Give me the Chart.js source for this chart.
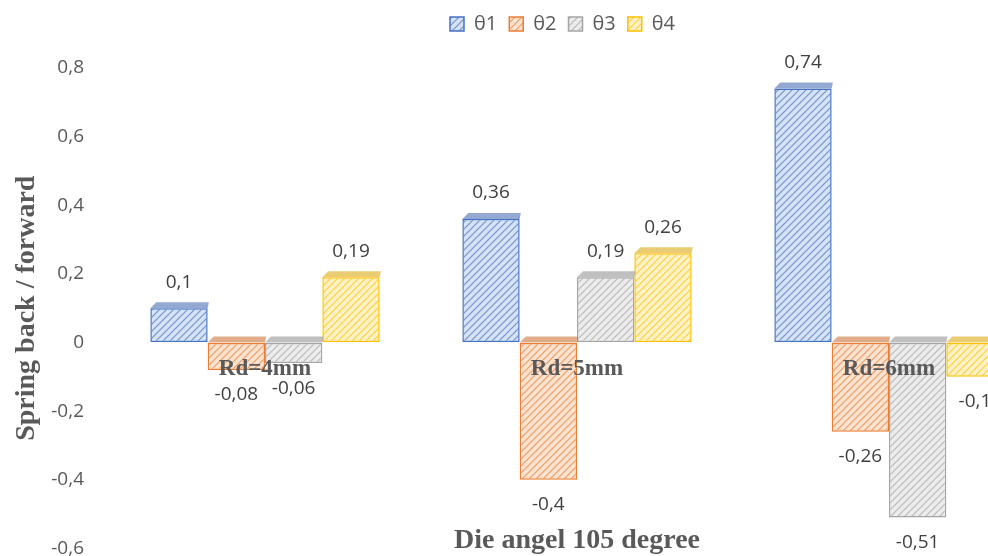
<!DOCTYPE html>
<html>
<head>
<meta charset="utf-8">
<script src="https://cdn.jsdelivr.net/npm/chart.js@4/dist/chart.umd.min.js"></script>
<style>
  html, body { margin: 0; padding: 0; background: #fff; overflow: hidden; }
  #wrap { position: absolute; left: 0; top: 0; width: 1122px; height: 556px; }
</style>
</head>
<body>
<div id="wrap"><canvas id="c" width="1122" height="556"></canvas></div>
<script>
// ---- data ----
const categories = ['Rd=4mm', 'Rd=5mm', 'Rd=6mm'];
const seriesNames = ['θ1', 'θ2', 'θ3', 'θ4'];
const theta1 = [0.1, 0.36, 0.74];
const theta2 = [-0.08, -0.4, -0.26];
const theta3 = [-0.06, 0.19, -0.51];
const theta4 = [0.19, 0.26, -0.1];
const yTickValues = [-0.6, -0.4, -0.2, 0, 0.2, 0.4, 0.6, 0.8];
const yTickLabels = ['-0,6', '-0,4', '-0,2', '0', '0,2', '0,4', '0,6', '0,8'];
const xTitle = 'Die angel 105 degree';
const yTitle = 'Spring back / forward';

// ---- styles ----
const lineColors = ['#4472c4', '#ed7d31', '#a5a5a5', '#ffc000'];
const fillColors = ['#d6e2f6', '#fbe3d2', '#ececec', '#fff2c6'];
const topColors  = ['#3b63ab', '#c96a2a', '#8c8c8c', '#d9a400'];

function hatch(bg, fg) {
  const s = 7;
  const p = document.createElement('canvas');
  p.width = s; p.height = s;
  const g = p.getContext('2d');
  g.fillStyle = bg; g.fillRect(0, 0, s, s);
  g.strokeStyle = fg; g.lineWidth = 1.2; g.globalAlpha = 0.7;
  g.beginPath();
  g.moveTo(0, s); g.lineTo(s, 0);
  g.moveTo(-s / 2, s / 2); g.lineTo(s / 2, -s / 2);
  g.moveTo(s / 2, s + s / 2); g.lineTo(s + s / 2, s / 2);
  g.stroke();
  return document.getElementById('c').getContext('2d').createPattern(p, 'repeat');
}

const seriesValues = [theta1, theta2, theta3, theta4];
const datasets = seriesValues.map((vals, i) => ({
  label: seriesNames[i],
  data: vals,
  backgroundColor: hatch(fillColors[i], lineColors[i]),
  borderColor: lineColors[i],
  borderWidth: 1.5,
  borderSkipped: false,
  barPercentage: 1.0,
  categoryPercentage: 0.735
}));

const fmt = v => String(v).replace('.', ',');

const legendSpace = {
  id: 'legendSpace',
  beforeLayout(chart) {
    const lg = chart.legend;
    if (lg && !lg._patched) {
      const fit = lg.fit;
      lg.fit = function () { fit.call(this); this.height += 24; };
      lg._patched = true;
    }
  },
  afterLayout(chart) {
    const lg = chart.legend;
    if (lg) { lg.left += 40; lg.right += 40; }
  }
};

const overlay = {
  id: 'overlay',
  afterDatasetsDraw(chart) {
    const ctx = chart.ctx;
    const xs = chart.scales.x, ys = chart.scales.y;
    const zero = ys.getPixelForValue(0);
    ctx.save();
    // 3D top faces
    chart.data.datasets.forEach((ds, di) => {
      const meta = chart.getDatasetMeta(di);
      meta.data.forEach((bar, i) => {
        const v = ds.data[i];
        const half = bar.width / 2;
        const l = bar.x - half, r = bar.x + half;
        ctx.fillStyle = topColors[di];
        ctx.globalAlpha = 0.55;
        const d = 6;
        const yTop = v >= 0 ? bar.y : zero;
        ctx.beginPath();
        ctx.moveTo(l, yTop);
        ctx.lineTo(l + d, yTop - d);
        ctx.lineTo(r + d * 0.2, yTop - d);
        ctx.lineTo(r, yTop);
        ctx.closePath();
        ctx.fill();
      });
    });
    ctx.globalAlpha = 1;
    // value labels
    ctx.font = '19px "Open Sans", Lato, sans-serif';
    ctx.fillStyle = '#404040';
    ctx.textAlign = 'center';
    ctx.textBaseline = 'middle';
    chart.data.datasets.forEach((ds, di) => {
      const meta = chart.getDatasetMeta(di);
      meta.data.forEach((bar, i) => {
        const v = ds.data[i];
        const y = v >= 0 ? bar.y - 26 : bar.y + 25;
        ctx.fillText(fmt(v), bar.x, y);
      });
    });
    // category labels at the zero line
    ctx.font = 'bold 23px "Liberation Serif", "Times New Roman", serif';
    ctx.fillStyle = '#595959';
    categories.forEach((c, i) => {
      ctx.fillText(c, xs.getPixelForValue(i), zero + 27);
    });
    // x title
    ctx.font = 'bold 28px "Liberation Serif", "Times New Roman", serif';
    ctx.fillText(xTitle, (chart.chartArea.left + chart.chartArea.right) / 2, chart.chartArea.bottom - 8);
    ctx.restore();
  }
};

new Chart(document.getElementById('c'), {
  type: 'bar',
  data: { labels: categories, datasets },
  options: {
    responsive: false,
    animation: false,
    layout: { padding: { left: 0, right: 77, top: 2, bottom: 0 } },
    plugins: {
      legend: {
        position: 'top',
        labels: {
          color: '#595959',
          font: { size: 20, family: '"Open Sans", Lato, sans-serif' },
          boxWidth: 14, boxHeight: 14, padding: 12
        }
      },
      tooltip: { enabled: false }
    },
    scales: {
      x: {
        display: false, grid: { display: false },
        afterFit(s) { s.height = 0; }
      },
      y: {
        min: -0.6, max: 0.8,
        afterFit(s) { s.width = 109; },
        afterBuildTicks(s) { s.ticks = yTickValues.map(v => ({ value: v })); },
        grid: { display: true, drawOnChartArea: false, drawTicks: true, tickLength: 25, color: 'rgba(0,0,0,0)' },
        border: { display: false },
        ticks: {
          padding: 0,
          color: '#595959',
          font: { size: 19, family: '"Open Sans", Lato, sans-serif', lineHeight: 0.8 },
          callback: (v) => { const k = yTickValues.findIndex(t => Math.abs(t - v) < 1e-9); return k >= 0 ? yTickLabels[k] : ''; }
        },
        title: {
          display: true, text: yTitle, color: '#595959',
          font: { size: 28, weight: 'bold', family: '"Liberation Serif", "Times New Roman", serif' },
          padding: { top: 10, bottom: 0 }
        }
      }
    }
  },
  plugins: [legendSpace, overlay]
});
</script>
</body>
</html>
